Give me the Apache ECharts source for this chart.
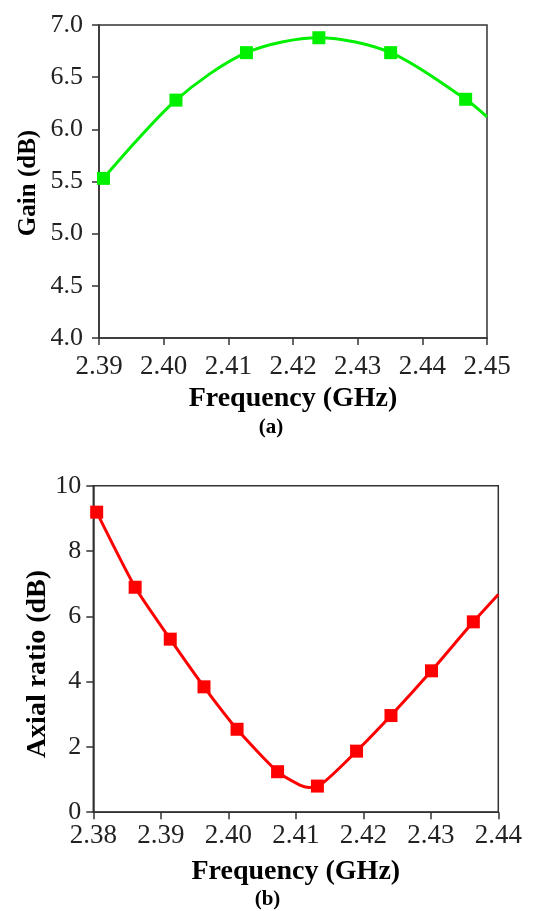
<!DOCTYPE html>
<html>
<head>
<meta charset="utf-8">
<style>
html,body{margin:0;padding:0;background:#fff;}
#chart{width:533px;height:911px;}
</style>
<script src="https://cdn.jsdelivr.net/npm/echarts@6/dist/echarts.min.js"></script>
</head>
<body>
<div id="chart"></div>
<script>
// (a) Gain vs frequency
const gainMarkerFreq = [2.3907, 2.4019, 2.4128, 2.4240, 2.4351, 2.4467];
const gainMarkerVal  = [5.53, 6.28, 6.735, 6.878, 6.735, 6.288];
const gainCurveFreq  = [2.3907, 2.4019, 2.4128, 2.4240, 2.4351, 2.4467, 2.4500];
const gainCurveVal   = [5.53, 6.28, 6.735, 6.878, 6.735, 6.288, 6.12];
const gainXTicks = [2.39, 2.45, 0.01];
const gainYTicks = [4.0, 7.0, 0.5];

// (b) Axial ratio vs frequency
const arMarkerFreq = [2.3805, 2.3862, 2.3914, 2.3964, 2.4013, 2.4073, 2.4132, 2.4190, 2.4241, 2.4301, 2.4363];
const arMarkerVal  = [9.19, 6.89, 5.30, 3.84, 2.54, 1.24, 0.80, 1.87, 2.96, 4.33, 5.83];
const arCurveFreq  = [2.3805, 2.3862, 2.3914, 2.3964, 2.4013, 2.4073, 2.4106, 2.4119, 2.4132, 2.4190, 2.4241, 2.4301, 2.4363, 2.4400];
const arCurveVal   = [9.19, 6.89, 5.30, 3.84, 2.54, 1.24, 0.83, 0.76, 0.78, 1.87, 2.96, 4.33, 5.83, 6.67];
const arXTicks = [2.38, 2.44, 0.01];
const arYTicks = [0, 10, 2];

const titles = {
  gainX: 'Frequency (GHz)', gainY: 'Gain (dB)', gainSub: '(a)',
  arX: 'Frequency (GHz)', arY: 'Axial ratio (dB)', arSub: '(b)'
};

const zip = (a, b) => a.map((v, i) => [v, b[i]]);
const FONT = '"Liberation Serif", "Times New Roman", serif';
const AXC = '#333';

const chart = echarts.init(document.getElementById('chart'), null, {renderer: 'canvas'});

function xAxis(gi, ticks, labelMargin, name, nameGap) {
  return {
    type: 'value', gridIndex: gi, min: ticks[0], max: ticks[1], interval: ticks[2],
    name: name, nameLocation: 'middle', nameGap: nameGap,
    nameTextStyle: {fontFamily: FONT, fontWeight: 'bold', fontSize: 28, color: '#000'},
    axisLine: {show: true, onZero: false, lineStyle: {color: AXC, width: 1.5}},
    axisTick: {show: true, inside: false, length: 7, lineStyle: {color: AXC, width: 1.5}},
    axisLabel: {fontFamily: FONT, fontSize: 27, color: '#222', margin: labelMargin,
      formatter: v => v.toFixed(2)},
    splitLine: {show: false}
  };
}
function yAxis(gi, ticks, labelMargin, digits) {
  return {
    type: 'value', gridIndex: gi, min: ticks[0], max: ticks[1], interval: ticks[2],
    axisLine: {show: true, onZero: false, lineStyle: {color: AXC, width: 1.5}},
    axisTick: {show: true, inside: false, length: 7, lineStyle: {color: AXC, width: 1.5}},
    axisLabel: {fontFamily: FONT, fontSize: 26, color: '#222', margin: labelMargin,
      formatter: v => v.toFixed(digits)},
    splitLine: {show: false}
  };
}

chart.setOption({
  animation: false,
  backgroundColor: '#fff',
  grid: [
    {left: 99, width: 388, top: 25, height: 313, show: true, borderColor: AXC, borderWidth: 1.5, backgroundColor: 'transparent'},
    {left: 93.3, width: 405, top: 485.7, height: 326.5, show: true, borderColor: AXC, borderWidth: 1.5, backgroundColor: 'transparent'}
  ],
  xAxis: [xAxis(0, gainXTicks, 15, titles.gainX, 47), xAxis(1, arXTicks, 10, titles.arX, 46)],
  yAxis: [yAxis(0, gainYTicks, 16, 1), yAxis(1, arYTicks, 12, 0)],
  series: [
    {type: 'line', xAxisIndex: 0, yAxisIndex: 0, data: zip(gainCurveFreq, gainCurveVal),
     smooth: 0.3, showSymbol: false, lineStyle: {color: '#00f000', width: 3}, z: 2},
    {type: 'scatter', xAxisIndex: 0, yAxisIndex: 0, data: zip(gainMarkerFreq, gainMarkerVal),
     symbol: 'rect', symbolSize: 13, itemStyle: {color: '#00f000', opacity: 1}, z: 3},
    {type: 'line', xAxisIndex: 1, yAxisIndex: 1, data: zip(arCurveFreq, arCurveVal),
     smooth: 0.2, showSymbol: false, lineStyle: {color: '#ff0000', width: 3}, z: 2},
    {type: 'scatter', xAxisIndex: 1, yAxisIndex: 1, data: zip(arMarkerFreq, arMarkerVal),
     symbol: 'rect', symbolSize: 13, itemStyle: {color: '#ff0000', opacity: 1}, z: 3}
  ],
  graphic: [
    {type: 'text', x: 29, y: 183, rotation: Math.PI / 2,
     style: {text: titles.gainY, font: 'bold 25px ' + FONT, fill: '#000', textAlign: 'center', textVerticalAlign: 'middle'}},
    {type: 'text', x: 38, y: 664, rotation: Math.PI / 2,
     style: {text: titles.arY, font: 'bold 28px ' + FONT, fill: '#000', textAlign: 'center', textVerticalAlign: 'middle'}},
    {type: 'text', x: 271, y: 428,
     style: {text: titles.gainSub, font: 'bold 21px ' + FONT, fill: '#000', textAlign: 'center', textVerticalAlign: 'middle'}},
    {type: 'text', x: 267.5, y: 900,
     style: {text: titles.arSub, font: 'bold 21px ' + FONT, fill: '#000', textAlign: 'center', textVerticalAlign: 'middle'}}
  ]
});
</script>
</body>
</html>
